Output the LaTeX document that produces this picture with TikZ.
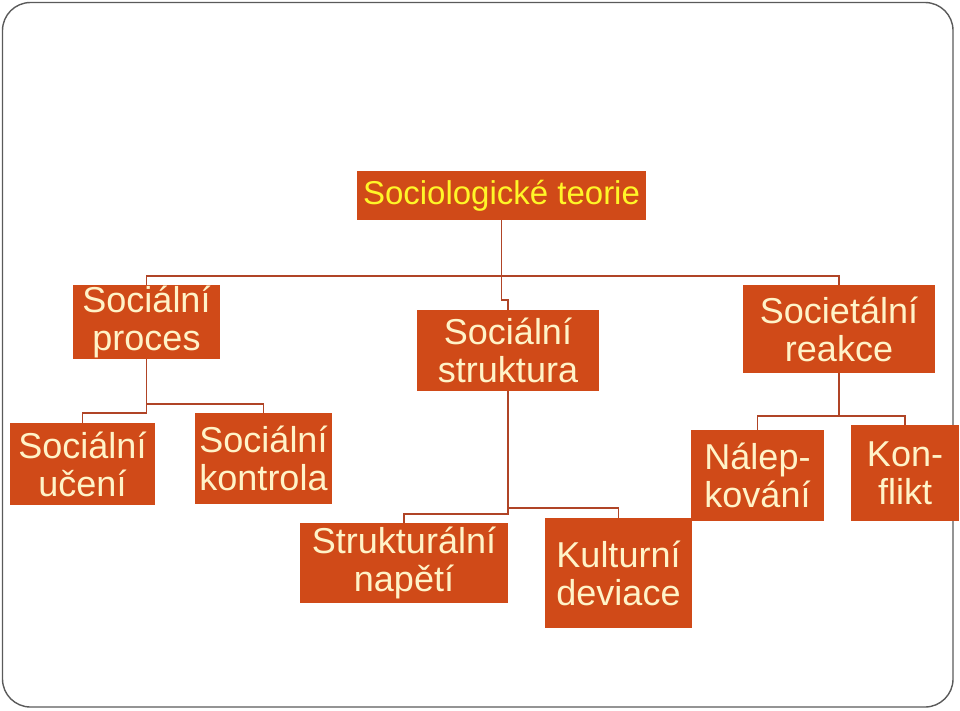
\documentclass[tikz,border=0pt]{standalone}
\usepackage{fontspec}
\setmainfont{Liberation Sans}
\definecolor{boxfill}{RGB}{208,74,24}
\definecolor{boxtext}{RGB}{255,243,200}
\definecolor{toptext}{RGB}{255,246,40}
\definecolor{linkcol}{RGB}{176,68,38}
\definecolor{framecol}{RGB}{90,90,90}
\begin{document}
\begin{tikzpicture}[x=1pt,y=-1pt,
  orgbox/.style={fill=boxfill,text=boxtext,inner sep=0pt,align=center,
    font=\fontsize{36}{38}\selectfont},
  link/.style={draw=linkcol,line width=1.1pt}]
\useasboundingbox (0,0) rectangle (960,710);
\draw[framecol,line width=1.4pt,rounded corners=28pt] (2.5,2.5) rectangle (953,707);
% boxes
\node[orgbox,text=toptext,minimum width=289pt,minimum height=49pt,font=\fontsize{33}{36}\selectfont] (top) at (501.5,195.5) {Sociologické teorie};
\node[orgbox,minimum width=147pt,minimum height=74pt] (proces) at (146.5,322) {Sociální\\proces};
\node[orgbox,minimum width=182pt,minimum height=81pt] (struk) at (508,350.5) {Sociální\\struktura};
\node[orgbox,minimum width=192pt,minimum height=88pt] (reakce) at (839,329) {Societální\\reakce};
\node[orgbox,minimum width=145pt,minimum height=82pt] (uceni) at (82.5,464) {Sociální\\učení};
\node[orgbox,minimum width=137pt,minimum height=91pt] (kontrola) at (263.5,458.5) {Sociální\\kontrola};
\node[orgbox,minimum width=208pt,minimum height=80pt] (napeti) at (404,563) {Strukturální\\napětí};
\node[orgbox,minimum width=147pt,minimum height=110pt] (deviace) at (618.5,573) {Kulturní\\deviace};
\node[orgbox,minimum width=133pt,minimum height=91pt] (nalep) at (757.5,475.5) {Nálep-\\kování};
\node[orgbox,minimum width=108pt,minimum height=96pt] (konflikt) at (905,473) {Kon-\\flikt};
% junctions
\coordinate (j1) at (501.5,276);
\coordinate (jS) at (501.5,300);
\coordinate (jP) at (146.5,404);
\coordinate (jP2) at (146.5,413);
\coordinate (jT) at (508,508);
\coordinate (jT2) at (508,514);
\coordinate (jR) at (839,416);
% connectors
\draw[link] (top.south) -- (j1);
\draw[link] (j1) -| (proces.north);
\draw[link] (j1) -| (reakce.north);
\draw[link] (j1) -- (jS) -| (struk.north);
\draw[link] (proces.south) -- (jP) -| (kontrola.north);
\draw[link] (jP) -- (jP2) -| (uceni.north);
\draw[link] (struk.south) -- (jT) -| (deviace.north);
\draw[link] (jT) -- (jT2) -| (napeti.north);
\draw[link] (reakce.south) -- (jR) -| (nalep.north);
\draw[link] (jR) -| (konflikt.north);
\end{tikzpicture}
\end{document}
